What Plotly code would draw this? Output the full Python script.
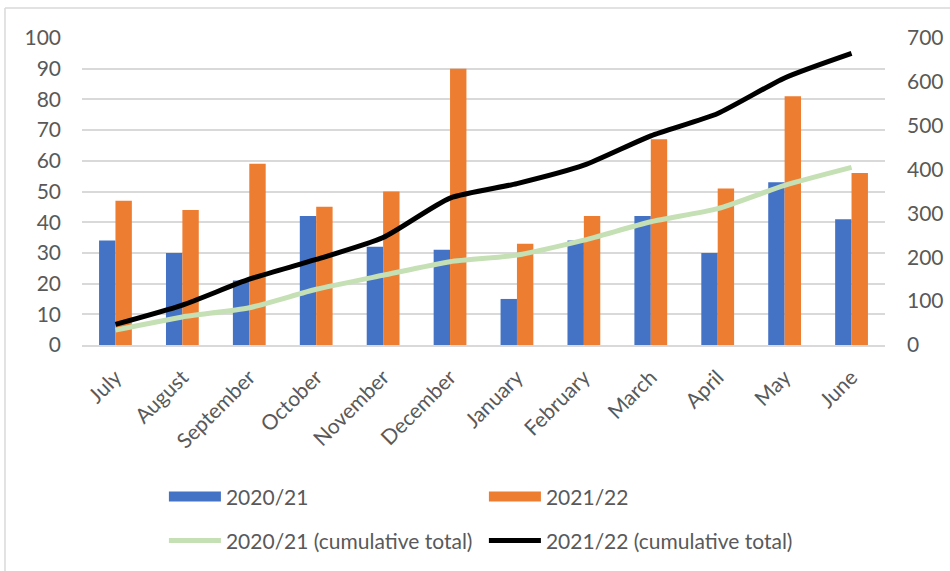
import plotly.graph_objects as go

months = ["July", "August", "September", "October", "November", "December",
          "January", "February", "March", "April", "May", "June"]
y2021 = [34, 30, 21, 42, 32, 31, 15, 34, 42, 30, 53, 41]
y2122 = [47, 44, 59, 45, 50, 90, 33, 42, 67, 51, 81, 56]
cum2021 = [34, 64, 85, 127, 159, 190, 205, 239, 281, 311, 364, 405]
cum2122 = [47, 91, 150, 195, 245, 335, 368, 410, 477, 528, 609, 665]

FONT = "Lato, Open Sans, sans-serif"
FS = 21
TXT = "#595959"
BLUE, ORANGE, GREEN, BLACK = "#4472C4", "#ED7D31", "#C5E0B4", "#000000"

fig = go.Figure()
fig.add_trace(go.Bar(x=months, y=y2021, name="2020/21", marker_color=BLUE,
                     marker_line_width=0, showlegend=False))
fig.add_trace(go.Bar(x=months, y=y2122, name="2021/22", marker_color=ORANGE,
                     marker_line_width=0, showlegend=False))
fig.add_trace(go.Scatter(x=months, y=cum2021, name="2020/21 (cumulative total)",
                         mode="lines", line=dict(color=GREEN, width=5, shape="spline", smoothing=0.6),
                         yaxis="y2", legend="legend2"))
fig.add_trace(go.Scatter(x=months, y=cum2122, name="2021/22 (cumulative total)",
                         mode="lines", line=dict(color=BLACK, width=5, shape="spline", smoothing=0.6),
                         yaxis="y2", legend="legend2"))
# legend entries for the bar series (wide swatches)
fig.add_trace(go.Scatter(x=[None], y=[None], name="2020/21", mode="lines",
                         line=dict(color=BLUE, width=12), legend="legend"))
fig.add_trace(go.Scatter(x=[None], y=[None], name="2021/22", mode="lines",
                         line=dict(color=ORANGE, width=12), legend="legend"))

leg_common = dict(orientation="h", xanchor="left", yanchor="middle",
                  entrywidth=253, entrywidthmode="pixels", itemwidth=52,
                  font=dict(family=FONT, size=FS, color=TXT),
                  bgcolor="rgba(0,0,0,0)", tracegroupgap=0)

fig.update_layout(
    width=950, height=571,
    margin=dict(l=82, r=65, t=38, b=226, autoexpand=False),
    paper_bgcolor="white", plot_bgcolor="white",
    font=dict(family=FONT, size=FS, color=TXT),
    barmode="group", bargap=0.51, bargroupgap=0,
    hovermode=False,
    xaxis=dict(tickangle=-45, showgrid=False, showline=True, linecolor="#d9d9d9",
               linewidth=1.5, ticks="", automargin=False, ticklabelstandoff=10,
               tickfont=dict(family=FONT, size=FS, color=TXT)),
    yaxis=dict(range=[0, 100], dtick=10, showgrid=True, gridcolor="#d9d9d9",
               gridwidth=1.5, zeroline=False, ticks="", automargin=False,
               ticklabelstandoff=20, tickfont=dict(family=FONT, size=FS, color=TXT)),
    yaxis2=dict(range=[0, 700], dtick=100, overlaying="y", side="right",
                showgrid=False, zeroline=False, ticks="", automargin=False,
                ticklabelstandoff=21, tickfont=dict(family=FONT, size=FS, color=TXT)),
    legend=dict(x=0.102, y=-0.495, **leg_common),
    legend2=dict(x=0.102, y=-0.638, **leg_common),
    shapes=[
        dict(type="line", xref="paper", yref="paper", x0=-0.0959, x1=1.1,
             y0=1.098, y1=1.098, line=dict(color="#d9d9d9", width=1.5)),
        dict(type="line", xref="paper", yref="paper", x0=-0.0959, x1=-0.0959,
             y0=1.098, y1=-0.74, line=dict(color="#d9d9d9", width=1.5)),
    ],
)

fig.write_html("out.html", config={"displayModeBar": False},
               post_script="document.body.style.margin='0';document.body.style.overflow='hidden';")
